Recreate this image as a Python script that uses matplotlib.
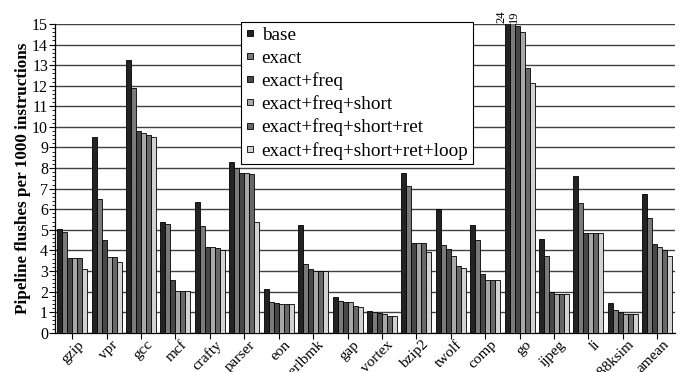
import numpy as np
import matplotlib
matplotlib.use("Agg")
import matplotlib.pyplot as plt
import matplotlib.transforms as mtransforms
from matplotlib.ticker import MultipleLocator
from matplotlib.lines import Line2D

plt.rcParams["font.family"] = ["Liberation Serif", "DejaVu Serif"]

benchmarks = ["gzip", "vpr", "gcc", "mcf", "crafty", "parser", "eon", "perlbmk", "gap",
              "vortex", "bzip2", "twolf", "comp", "go", "ijpeg", "li", "m88ksim", "amean"]
configs = ["base", "exact", "exact+freq", "exact+freq+short",
           "exact+freq+short+ret", "exact+freq+short+ret+loop"]

base = [5.05, 9.5, 13.25, 5.4, 6.33, 8.3, 2.12, 5.23, 1.72, 1.07, 7.75, 6.0, 5.23, 24, 4.54, 7.63, 1.46, 6.72]
exact = [4.88, 6.5, 11.9, 5.28, 5.2, 7.98, 1.47, 3.34, 1.54, 0.99, 7.15, 4.25, 4.5, 19, 3.73, 6.29, 1.1, 5.57]
freq = [3.65, 4.5, 9.8, 2.58, 4.18, 7.75, 1.42, 3.08, 1.48, 0.94, 4.38, 4.05, 2.84, 14.9, 1.96, 4.86, 1.02, 4.32]
short = [3.62, 3.7, 9.7, 2.02, 4.15, 7.75, 1.39, 3.0, 1.48, 0.89, 4.38, 3.73, 2.56, 14.63, 1.87, 4.86, 0.91, 4.17]
ret = [3.62, 3.7, 9.6, 2.02, 4.13, 7.7, 1.39, 3.0, 1.29, 0.83, 4.38, 3.26, 2.56, 12.85, 1.87, 4.86, 0.91, 4.02]
loop = [3.08, 3.45, 9.5, 2.02, 4.02, 5.36, 1.39, 3.0, 1.27, 0.81, 3.9, 3.13, 2.56, 12.15, 1.87, 4.86, 0.91, 3.73]

series = [base, exact, freq, short, ret, loop]
colors = ["#232323", "#7a7a7a", "#474747", "#a8a8a8", "#686868", "#d2d2d2"]

fig = plt.figure(figsize=(6.83, 3.72), dpi=100)
ax = fig.add_axes([55 / 683, 1 - 332.7 / 372, 619.5 / 683, 308.7 / 372])

x = np.arange(len(benchmarks))
w = 0.145
for i, (vals, col, name) in enumerate(zip(series, colors, configs)):
    ax.bar(x + (i - 2.5) * w, vals, w, color=col, edgecolor="black",
           linewidth=0.6, label=name, zorder=3)

ax.set_xlim(-0.5, len(benchmarks) - 0.5)
ax.set_ylim(0, 15)
ax.yaxis.set_major_locator(MultipleLocator(1))
ax.yaxis.set_minor_locator(MultipleLocator(0.2))
ax.grid(axis="y", color="#404040", linewidth=1.0, zorder=0)
ax.set_axisbelow(True)
for s in ["top", "right"]:
    ax.spines[s].set_visible(False)
ax.spines["left"].set_linewidth(0.9)
ax.spines["bottom"].set_linewidth(0.9)

ax.set_xticks(x)
ax.set_xticklabels(benchmarks, rotation=45, ha="right", rotation_mode="anchor", fontsize=11)
ax.tick_params(axis="x", direction="out", length=4, width=0.8, pad=2)
ax.tick_params(axis="y", which="major", direction="out", length=4, width=0.8, labelsize=11.5, pad=1)
ax.tick_params(axis="y", which="minor", direction="out", length=2, width=0.6)
ax.set_ylabel("Pipeline flushes per 1000 instructions", fontsize=12.3, fontweight="bold", labelpad=1)

# nudge the slanted names up and to the right
shift = mtransforms.ScaledTranslation(5 / 100, 3 / 100, fig.dpi_scale_trans)
for lab in ax.get_xticklabels():
    lab.set_transform(lab.get_transform() + shift)

# values for go that run past the top of the axis
gi = benchmarks.index("go")
ax.annotate("%d" % base[gi], xy=(gi - 2.5 * w, 15), xytext=(-4, 1), textcoords="offset points",
            rotation=90, ha="center", va="bottom", fontsize=9, annotation_clip=False)
ax.annotate("%d" % exact[gi], xy=(gi - 1.5 * w, 15), xytext=(1, 1), textcoords="offset points",
            rotation=90, ha="center", va="bottom", fontsize=9, annotation_clip=False)

# small square keys in the legend
handles = [Line2D([], [], linestyle="none", marker="s", markersize=4, markerfacecolor=c,
                  markeredgecolor="black", markeredgewidth=0.6) for c in colors]
leg = ax.legend(handles, configs, loc="upper left", bbox_to_anchor=(0.301, 1.0075), fontsize=13.8,
                frameon=True, fancybox=False, framealpha=1, edgecolor="black",
                handlelength=0.4, handletextpad=0.4,
                labelspacing=0.28, borderpad=0.25, borderaxespad=0)
leg.get_frame().set_linewidth(0.8)
leg.set_zorder(5)

plt.savefig("out.png", dpi=100)
